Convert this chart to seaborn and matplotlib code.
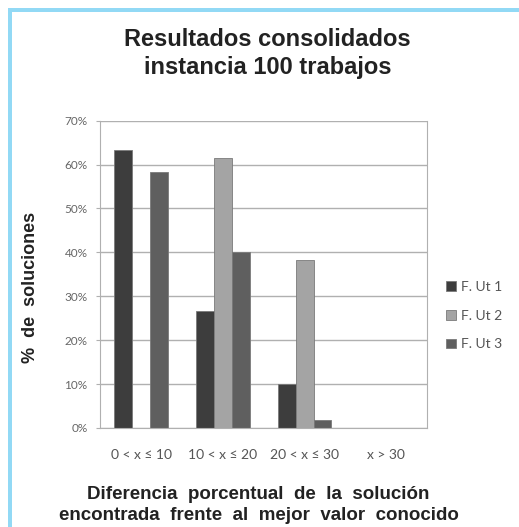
import pandas as pd
import matplotlib.pyplot as plt
import seaborn as sns
from matplotlib.patches import Rectangle
from matplotlib.ticker import PercentFormatter

# values (% of solutions)
categories = ['0 < x ≤ 10', '10 < x ≤ 20', '20 < x ≤ 30', 'x > 30']
series = ['F. Ut 1', 'F. Ut 2', 'F. Ut 3']
ut1 = [63.3, 26.7, 10.0, 0.0]
ut2 = [0.0, 61.6, 38.3, 0.0]
ut3 = [58.3, 40.0, 1.7, 0.0]
colors = ['#3d3d3d', '#a4a4a4', '#5f5f5f']

df = pd.DataFrame({
    'cat': categories * 3,
    'serie': [s for s in series for _ in categories],
    'val': ut1 + ut2 + ut3,
})

sns.set_style('white')
fig = plt.figure(figsize=(5.19, 5.27), dpi=100)
ax = fig.add_axes([0.193, 0.188, 0.630, 0.583])

sns.barplot(data=df, x='cat', y='val', hue='serie', order=categories,
            hue_order=series, palette=colors, width=0.66, gap=0,
            edgecolor='#7a7a7a', linewidth=0.6, ax=ax, legend=True)

ax.set_ylim(0, 70)
ax.set_xlim(-0.5, 3.5)
ax.set_yticks(range(0, 71, 10))
ax.yaxis.set_major_formatter(PercentFormatter(decimals=0))
ax.yaxis.grid(True, color='#b0b0b0', linewidth=1)
ax.set_axisbelow(True)
for s in ['left', 'right', 'bottom']:
    ax.spines[s].set_color('#b0b0b0')
ax.spines['top'].set_visible(False)
ax.tick_params(axis='y', labelsize=8.5, labelcolor='#666666', color='#b0b0b0',
               length=3, left=True, width=0.8, pad=6)
ax.tick_params(axis='x', labelsize=10, labelcolor='#555555', length=0, pad=15)
for t in ax.get_xticklabels() + ax.get_yticklabels():
    t.set_family(['Lato', 'DejaVu Sans'])
ax.set_xlabel('')
ax.set_ylabel('')

leg = ax.legend(loc='center left', bbox_to_anchor=(1.02, 0.365), frameon=False,
                handlelength=0.7, handleheight=0.7, handletextpad=0.4,
                labelspacing=1.2, prop={'family': 'Lato', 'size': 10})
for t in leg.get_texts():
    t.set_color('#555555')

bold = ['Liberation Sans', 'DejaVu Sans']
fig.text(0.515, 0.899, 'Resultados consolidados\ninstancia 100 trabajos',
         ha='center', va='center', fontsize=17, fontweight='bold',
         family=bold, color='#222222', linespacing=1.3)
fig.text(0.058, 0.455, '%  de  soluciones', rotation=90, ha='center', va='center',
         fontsize=13, fontweight='bold', family=bold, color='#222222')
fig.text(0.498, 0.042, 'Diferencia  porcentual  de  la  solución\nencontrada  frente  al  mejor  valor  conocido',
         ha='center', va='center', fontsize=13.5, fontweight='bold',
         family=bold, color='#222222', linespacing=1.35)

# light blue frame on the top and left
fig.add_artist(Rectangle((8 / 519, 0), 4 / 519, 1 - 8 / 527, transform=fig.transFigure,
                         color='#92d9f5', lw=0))
fig.add_artist(Rectangle((8 / 519, 1 - 12 / 527), 1, 4 / 527, transform=fig.transFigure,
                         color='#92d9f5', lw=0))

fig.savefig('out.png', dpi=100)
